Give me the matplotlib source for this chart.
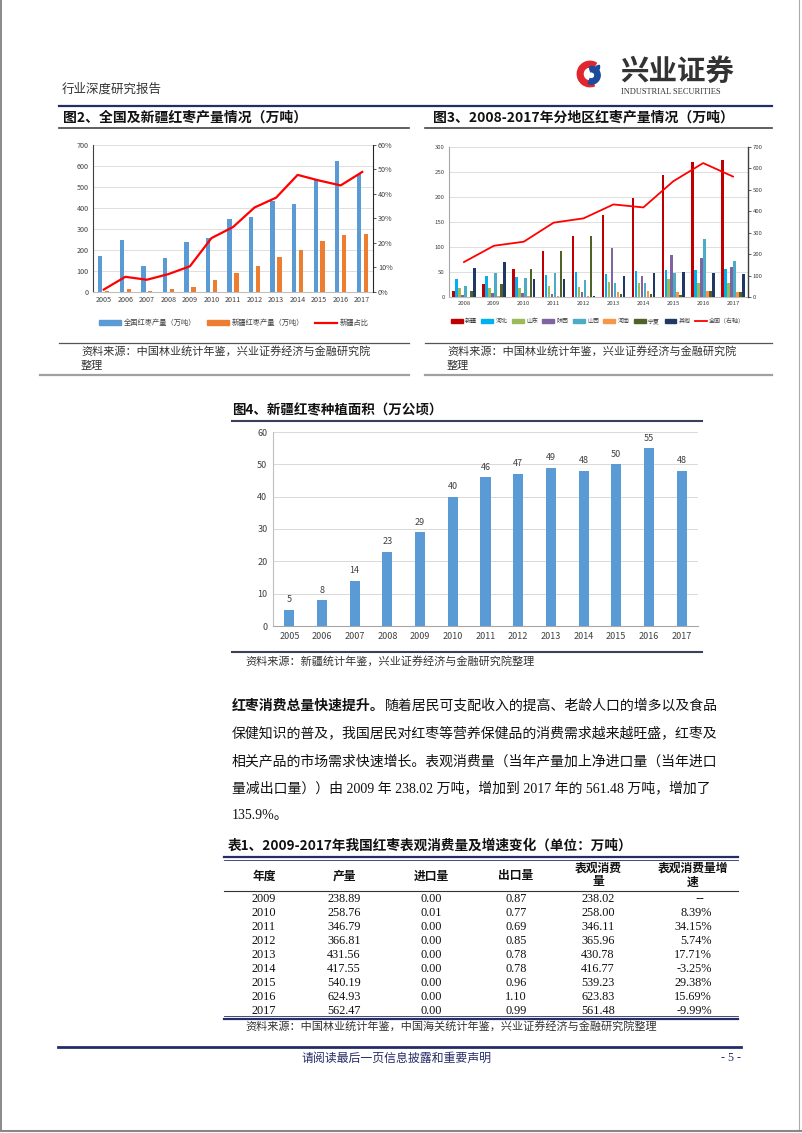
import numpy as np
import matplotlib
matplotlib.use("Agg")
import matplotlib.pyplot as plt
from matplotlib.lines import Line2D
from matplotlib.patches import Patch, Wedge

plt.rcParams['font.family'] = ['Noto Sans CJK SC', 'DejaVu Sans']
plt.rcParams['axes.unicode_minus'] = False

# ---- data: 图2 ----
years_a = ['2005', '2006', '2007', '2008', '2009', '2010', '2011', '2012', '2013', '2014', '2015', '2016', '2017']
national = [172, 246, 123, 163, 239, 259, 347, 357, 432, 418, 540, 625, 562]
xinjiang = [3, 14, 6, 13, 26, 58, 92, 123, 165, 200, 245, 272, 276]
xj_share = [1.0, 6.2, 5.0, 7.3, 10.5, 22.0, 26.5, 34.5, 38.5, 47.8, 45.5, 43.5, 49.0]

# ---- data: 图3 ----
years_b = ['2008', '2009', '2010', '2011', '2012', '2013', '2014', '2015', '2016', '2017']
reg_xinjiang = [12, 26, 57, 92, 123, 165, 199, 245, 271, 275]
reg_hebei = [37, 43, 41, 45, 50, 46, 52, 55, 55, 56]
reg_shandong = [18, 18, 18, 22, 21, 31, 28, 37, 28, 29]
reg_shaanxi = [5, 8, 8, 7, 10, 98, 42, 85, 79, 61]
reg_shanxi = [22, 48, 39, 48, 34, 29, 28, 48, 117, 73]
reg_henan = [1, 2, 2, 2, 3, 11, 12, 11, 12, 11]
reg_ningxia = [12, 26, 57, 92, 123, 6, 6, 5, 13, 10]
reg_other = [59, 70, 36, 36, 3, 43, 49, 50, 48, 46]
national_b = [163, 239, 258, 347, 367, 432, 418, 540, 625, 562]
region_names = ['新疆', '河北', '山东', '陕西', '山西', '河南', '宁夏', '其他']

# ---- data: 图4 ----
area = [5, 8, 14, 23, 29, 40, 46, 47, 49, 48, 50, 55, 48]

# ---- data: 表1 ----
tbl_header = ['年度', '产量', '进口量', '出口量', '表观消费\n量', '表观消费量增\n速']
tbl_year = ['2009', '2010', '2011', '2012', '2013', '2014', '2015', '2016', '2017']
tbl_output = ['238.89', '258.76', '346.79', '366.81', '431.56', '417.55', '540.19', '624.93', '562.47']
tbl_import = ['0.00', '0.01', '0.00', '0.00', '0.00', '0.00', '0.00', '0.00', '0.00']
tbl_export = ['0.87', '0.77', '0.69', '0.85', '0.78', '0.78', '0.96', '1.10', '0.99']
tbl_consume = ['238.02', '258.00', '346.11', '365.96', '430.78', '416.77', '539.23', '623.83', '561.48']
tbl_growth = ['--', '8.39%', '34.15%', '5.74%', '17.71%', '-3.25%', '29.38%', '15.69%', '-9.99%']

W, H = 802, 1133
fig = plt.figure(figsize=(W / 100, H / 100), dpi=100)
fig.patch.set_facecolor('white')

def fx(x):
    return x / W

def fy(y):
    return 1 - y / H

def hline(y, x0, x1, lw=1.0, color='#333333'):
    fig.add_artist(Line2D([fx(x0), fx(x1)], [fy(y), fy(y)], lw=lw, color=color))

def axes_px(left, top, right, bottom):
    return fig.add_axes([fx(left), fy(bottom), (right - left) / W, (bottom - top) / H])

def txt(x, y, s, size=9, ha='left', va='center', color='#222222', weight='normal', family=None):
    kw = {}
    if family is not None:
        kw['family'] = family
    return fig.text(fx(x), fy(y), s, fontsize=size, ha=ha, va=va, color=color, weight=weight, **kw)

serif = ['Liberation Serif', 'Noto Sans CJK SC']
navy = '#262C68'

# page border
fig.add_artist(Line2D([fx(1), fx(1)], [fy(0), fy(1131)], lw=1.2, color='#777777'))
fig.add_artist(Line2D([fx(799), fx(799)], [fy(0), fy(1131)], lw=0.8, color='#aaaaaa'))
hline(1131, 0, W, lw=1.5, color='#888888')

# ---- header ----
txt(62, 89, '行业深度研究报告', size=9, color='#333333')
hline(106, 59, 772, lw=1.6, color=navy)
lax = axes_px(576, 58, 604, 90)
lax.set_xlim(-1.1, 1.1)
lax.set_ylim(-1.1, 1.1)
lax.set_aspect('equal')
lax.axis('off')
lax.add_patch(Wedge((0, 0), 1.0, 60, 290, width=0.45, color='#E0262E'))
lax.add_patch(Wedge((0.1, -0.1), 0.7, -110, 100, width=0.42, color='#1C4B9B'))
lax.add_patch(Wedge((0.35, 0.55), 0.4, 200, 20, width=0.25, color='#1C4B9B'))
txt(620, 72, '兴业证券', size=20.5, weight='bold', color='#333333')
txt(621, 92, 'INDUSTRIAL SECURITIES', size=6, color='#333333', family=['Liberation Serif'])

# ---- section titles ----
txt(63, 118, '图2、全国及新疆红枣产量情况（万吨）', size=10, weight='bold', color='#111111')
txt(433, 118, '图3、2008-2017年分地区红枣产量情况（万吨）', size=10, weight='bold', color='#111111')
hline(128, 59, 409, lw=1.2, color='#444444')
hline(128, 425, 772, lw=1.2, color='#444444')

# ---- 图2 ----
x = np.arange(len(years_a))
ax2 = axes_px(93, 145, 373, 292)
ax2.bar(x - 0.16, national, 0.2, color='#5B9BD5', zorder=3)
ax2.bar(x + 0.16, xinjiang, 0.2, color='#ED7D31', zorder=3)
ax2.set_xlim(-0.5, len(years_a) - 0.5)
ax2.set_ylim(0, 700)
ax2.set_yticks(range(0, 701, 100))
ax2.set_xticks(x)
ax2.set_xticklabels(years_a)
ax2.grid(axis='y', color='#D9D9D9', lw=0.6, zorder=0)
ax2.tick_params(labelsize=5.2, length=0, pad=3, colors='#404040')
ax2.spines['top'].set_visible(False)
ax2.spines['left'].set_color('#404040')
ax2.spines['left'].set_linewidth(0.8)
ax2.spines['bottom'].set_color('#BFBFBF')
ax2.spines['right'].set_visible(False)
ax2r = ax2.twinx()
ax2r.plot(x, xj_share, color='#FF0000', lw=1.6, zorder=4)
ax2r.set_ylim(0, 60)
ax2r.set_yticks(range(0, 61, 10))
ax2r.set_yticklabels(['%d%%' % v for v in range(0, 61, 10)])
ax2r.tick_params(labelsize=5.2, length=2, width=0.6, pad=1.5, colors='#404040')
ax2r.spines['top'].set_visible(False)
ax2r.spines['left'].set_visible(False)
ax2r.spines['bottom'].set_visible(False)
ax2r.spines['right'].set_color('#262626')
ax2r.spines['right'].set_linewidth(0.8)
h2 = [Patch(color='#5B9BD5'), Patch(color='#ED7D31'), Line2D([], [], color='#FF0000', lw=1.6)]
fig.legend(h2, ['全国红枣产量（万吨）', '新疆红枣产量（万吨）', '新疆占比'],
           loc='center', bbox_to_anchor=(fx(234), fy(323)), ncol=3, frameon=False,
           fontsize=5.2, handlelength=3.0, handleheight=0.6, handletextpad=0.4, columnspacing=1.5,
           labelcolor='#404040')

# ---- 图3 ----
xb = np.arange(len(years_b))
ax3 = axes_px(449, 147, 748, 297)
reg_colors = ['#C00000', '#00B0F0', '#9BBB59', '#8064A2', '#4BACC6', '#F79646', '#4F6228', '#1F3864']
reg_series = [reg_xinjiang, reg_hebei, reg_shandong, reg_shaanxi, reg_shanxi, reg_henan, reg_ningxia, reg_other]
for i, (vals, col) in enumerate(zip(reg_series, reg_colors)):
    ax3.bar(xb + (i - 3.5) * 0.1, vals, 0.085, color=col, zorder=3)
ax3.set_xlim(-0.5, len(years_b) - 0.5)
ax3.set_ylim(0, 300)
ax3.set_yticks(range(0, 301, 50))
ax3.set_xticks(xb)
ax3.set_xticklabels(years_b)
ax3.grid(axis='y', color='#D9D9D9', lw=0.6, zorder=0)
ax3.tick_params(labelsize=4.3, length=0, pad=3, colors='#404040')
ax3.spines['top'].set_visible(False)
ax3.spines['right'].set_visible(False)
ax3.spines['left'].set_color('#A6A6A6')
ax3.spines['bottom'].set_color('#BFBFBF')
ax3r = ax3.twinx()
ax3r.plot(xb, national_b, color='#FF0000', lw=1.3, zorder=4)
ax3r.set_ylim(0, 700)
ax3r.set_yticks(range(0, 701, 100))
ax3r.tick_params(labelsize=4.3, length=2, width=0.6, pad=1.5, colors='#404040')
ax3r.spines['top'].set_visible(False)
ax3r.spines['left'].set_visible(False)
ax3r.spines['bottom'].set_visible(False)
ax3r.spines['right'].set_color('#404040')
ax3r.spines['right'].set_linewidth(1.0)
h3 = [Patch(color=c) for c in reg_colors] + [Line2D([], [], color='#FF0000', lw=1.3)]
fig.legend(h3, region_names + ['全国（右轴）'], loc='center', bbox_to_anchor=(fx(598), fy(321)),
           ncol=9, frameon=False, fontsize=4.3, handlelength=2.0, handleheight=0.7,
           handletextpad=0.35, columnspacing=0.75, labelcolor='#404040')

# ---- 来源 ----
hline(343, 59, 409, lw=0.9, color='#555555')
hline(343, 425, 772, lw=0.9, color='#555555')
src1 = '资料来源：中国林业统计年鉴，兴业证券经济与金融研究院'
txt(81, 351, src1, size=8, color='#333333')
txt(81, 366, '整理', size=8, color='#333333')
txt(447, 351, src1, size=8, color='#333333')
txt(447, 366, '整理', size=8, color='#333333')
hline(375, 40, 409, lw=1.6, color='#A0A0A0')
hline(375, 425, 772, lw=1.6, color='#A0A0A0')

# ---- 图4 ----
txt(232, 410, '图4、新疆红枣种植面积（万公顷）', size=9.7, weight='bold', color='#111111')
hline(421, 232, 702, lw=1.5, color='#3A3F5C')
ax4 = axes_px(273, 432, 698, 626)
bars = ax4.bar(x, area, 0.31, color='#5B9BD5', zorder=3)
ax4.bar_label(bars, padding=4, fontsize=6.5, color='#404040')
ax4.set_xlim(-0.5, len(years_a) - 0.5)
ax4.set_ylim(0, 60)
ax4.set_yticks(range(0, 61, 10))
ax4.set_xticks(x)
ax4.set_xticklabels(years_a)
ax4.grid(axis='y', color='#D9D9D9', lw=0.7, zorder=0)
ax4.tick_params(labelsize=6.5, length=0, pad=4, colors='#404040')
ax4.spines['top'].set_visible(False)
ax4.spines['right'].set_visible(False)
ax4.spines['left'].set_color('#BFBFBF')
ax4.spines['bottom'].set_color('#A6A6A6')
hline(652, 232, 702, lw=1.5, color='#3A3F5C')
txt(245, 661, '资料来源：新疆统计年鉴，兴业证券经济与金融研究院整理', size=8, color='#333333')

# ---- 正文 ----
fs = 10
cw = fs * 100 / 72
bold_part = '红枣消费总量快速提升。'
txt(232, 706, bold_part, size=fs, weight='bold', color='#111111', family=serif)
txt(232 + cw * len(bold_part), 706, '随着居民可支配收入的提高、老龄人口的增多以及食品', size=fs, color='#111111', family=serif)
body_lines = [
    '保健知识的普及，我国居民对红枣等营养保健品的消费需求越来越旺盛，红枣及',
    '相关产品的市场需求快速增长。表观消费量（当年产量加上净进口量（当年进口',
    '量减出口量））由 2009 年 238.02 万吨，增加到 2017 年的 561.48 万吨，增加了',
    '135.9%。',
]
for k, line in enumerate(body_lines):
    txt(232, 733.5 + 27.5 * k, line, size=fs, color='#111111', family=serif)

# ---- 表1 ----
txt(228, 846, '表1、2009-2017年我国红枣表观消费量及增速变化（单位：万吨）', size=9.8, weight='bold', color='#111111')
hline(857, 224, 738, lw=1.6, color=navy)
hline(859.5, 224, 738, lw=0.6, color=navy)
col_x = [264, 344, 431, 516, 598, 693]
for cx, head in zip(col_x, tbl_header):
    if '\n' in head:
        a, b = head.split('\n')
        txt(cx, 868, a, size=8.5, ha='center', weight='bold', color='#111111')
        txt(cx, 882, b, size=8.5, ha='center', weight='bold', color='#111111')
    else:
        txt(cx, 876, head, size=8.5, ha='center', weight='bold', color='#111111')
hline(891, 224, 738, lw=0.8, color='#333333')
cols = [tbl_year, tbl_output, tbl_import, tbl_export, tbl_consume]
for r in range(len(tbl_year)):
    yy = 898.5 + 14 * r
    for cx, col in zip(col_x, cols):
        txt(cx, yy, col[r], size=8.8, ha='center', color='#111111', family=serif)
    if tbl_growth[r] == '--':
        txt(700, yy, tbl_growth[r], size=8.8, ha='center', color='#111111', family=['DejaVu Sans'])
    else:
        txt(712, yy, tbl_growth[r], size=8.8, ha='right', color='#111111', family=serif)
hline(1016, 224, 738, lw=0.6, color=navy)
hline(1018.5, 224, 738, lw=1.6, color=navy)
txt(245, 1026, '资料来源：中国林业统计年鉴，中国海关统计年鉴，兴业证券经济与金融研究院整理', size=8, color='#333333')

# ---- footer ----
hline(1047, 58, 741, lw=2.0, color=navy)
txt(397, 1058, '请阅读最后一页信息披露和重要声明', size=8.6, ha='center', color=navy)
txt(741, 1058, '- 5 -', size=8.6, ha='right', color=navy, family=['Liberation Serif'])

fig.savefig('out.png', dpi=100)
